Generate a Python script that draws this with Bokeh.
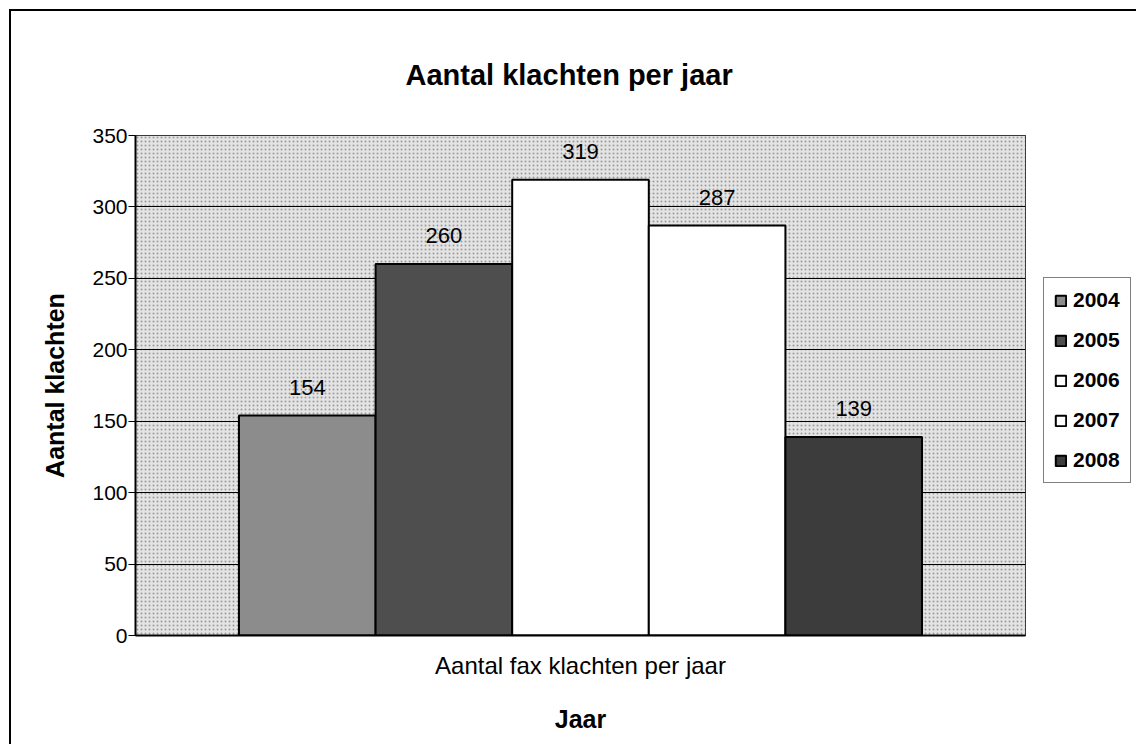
from bokeh.plotting import figure
from bokeh.layouts import column
from bokeh.models import (FactorRange, Range1d, FixedTicker, Legend, LegendItem, Title, ColumnDataSource)
from bokeh.transform import dodge
from bokeh.core.properties import value
from bokeh.embed import file_html
from bokeh.resources import INLINE

# ---- data ----
categories = ["Aantal fax klachten per jaar"]
years = ["2004", "2005", "2006", "2007", "2008"]
counts = [154, 260, 319, 287, 139]
y_ticks = [0, 50, 100, 150, 200, 250, 300, 350]

# ---- style ----
bar_colors = ["#8c8c8c", "#4e4e4e", "#ffffff", "#ffffff", "#3c3c3c"]
bar_width = 0.1535
offsets = [-2 * bar_width, -bar_width, 0.0, bar_width, 2 * bar_width]
FONT = "Liberation Sans"

p = figure(x_range=FactorRange(factors=categories), y_range=Range1d(0, 350),
           width=1122, height=733, frame_width=890, frame_height=500,
           min_border_left=124, min_border_top=124, min_border_right=108, min_border_bottom=109,
           output_backend="svg", toolbar_location=None, tools="")

# background texture
p.quad(left=[0], right=[1], bottom=[0], top=[350], fill_color="#e4e4e4",
       line_color=None, hatch_pattern="dot", hatch_color="#6a6a6a", hatch_scale=4,
       hatch_alpha=0.6, level="image")

p.background_fill_color = "#e4e4e4"
p.border_fill_color = "white"
p.outline_line_color = "black"
p.outline_line_width = 1

p.xgrid.grid_line_color = None
p.ygrid.grid_line_color = "black"
p.ygrid.grid_line_width = 1
p.ygrid.ticker = FixedTicker(ticks=y_ticks)

renderers = []
for yr, cnt, col, off in zip(years, counts, bar_colors, offsets):
    src = ColumnDataSource(dict(cat=categories, val=[cnt], lab=[str(cnt)]))
    r = p.vbar(x=dodge("cat", off, range=p.x_range), top="val", width=bar_width, source=src,
               fill_color=col, line_color="black", line_width=2)
    renderers.append(r)
    p.text(x=dodge("cat", off, range=p.x_range), y="val", text="lab", source=src,
           text_align="center", text_baseline="bottom", y_offset=-21,
           text_font=value(FONT), text_font_size="22px", text_color="black")

# axes
p.yaxis.ticker = FixedTicker(ticks=y_ticks)
p.yaxis.axis_line_color = "black"
p.yaxis.axis_line_width = 2
p.yaxis.major_tick_out = 7
p.yaxis.major_tick_in = 0
p.yaxis.minor_tick_line_color = None
p.yaxis.major_label_text_font = FONT
p.yaxis.major_label_text_font_size = "21px"
p.yaxis.major_label_text_color = "black"
p.yaxis.major_label_standoff = 1
p.yaxis.axis_label = "Aantal klachten"
p.yaxis.axis_label_text_font = FONT
p.yaxis.axis_label_text_font_size = "25px"
p.yaxis.axis_label_text_font_style = "bold"
p.yaxis.axis_label_text_color = "black"
p.yaxis.axis_label_standoff = 20

p.xaxis.axis_line_color = "black"
p.xaxis.axis_line_width = 2
p.xaxis.major_tick_out = 0
p.xaxis.major_tick_in = 0
p.xaxis.major_label_text_font = FONT
p.xaxis.major_label_text_font_size = "24px"
p.xaxis.major_label_text_color = "black"
p.xaxis.major_label_standoff = 16
p.xaxis.axis_label = "Jaar"
p.xaxis.axis_label_text_font = FONT
p.xaxis.axis_label_text_font_size = "25px"
p.xaxis.axis_label_text_font_style = "bold"
p.xaxis.axis_label_text_color = "black"
p.xaxis.axis_label_standoff = 23

# title
p.add_layout(Title(text="Aantal klachten per jaar", align="left", text_font=FONT,
                   text_font_size="29px", text_font_style="bold", text_color="black",
                   standoff=90, offset=270), "above")

legend = Legend(items=[LegendItem(label=y, renderers=[r]) for y, r in zip(years, renderers)],
                location=(18, 152), orientation="vertical",
                border_line_color="black", border_line_width=1,
                background_fill_color="white", background_fill_alpha=1,
                glyph_width=13, glyph_height=13, label_standoff=6, label_height=20,
                label_text_font=FONT, label_text_font_size="21px", label_text_font_style="bold",
                label_text_color="black",
                spacing=16, padding=10, margin=0)
p.add_layout(legend, "right")

layout = column(p, styles={"margin-left": "9px", "margin-top": "9px",
                           "border-left": "2px solid black", "border-top": "2px solid black"})

open("out.html", "w").write(file_html(layout, INLINE))
